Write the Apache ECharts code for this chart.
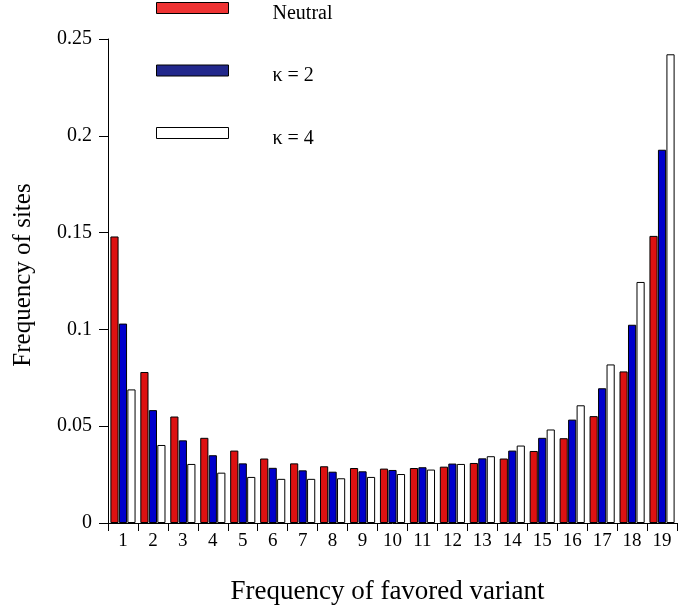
<!DOCTYPE html>
<html>
<head>
<meta charset="utf-8">
<script src="https://cdn.jsdelivr.net/npm/echarts@6/dist/echarts.min.js"></script>
<style>html,body{margin:0;padding:0;background:#fff}#c{width:680px;height:609px}</style>
</head>
<body>
<div id="c"></div>
<script>
const categories = ['1','2','3','4','5','6','7','8','9','10','11','12','13','14','15','16','17','18','19'];
const neutral = [0.148, 0.078, 0.055, 0.044, 0.0374, 0.0333, 0.0308, 0.0293, 0.0284, 0.0281, 0.0284, 0.0291, 0.031, 0.0333, 0.0372, 0.0438, 0.0552, 0.0783, 0.1483];
const kappa2 = [0.103, 0.0583, 0.0427, 0.035, 0.0308, 0.0285, 0.0272, 0.0265, 0.0267, 0.0274, 0.0288, 0.0307, 0.0334, 0.0374, 0.044, 0.0534, 0.0696, 0.1024, 0.1928];
const kappa4 = [0.069, 0.0403, 0.0305, 0.026, 0.0238, 0.0228, 0.0228, 0.0231, 0.0238, 0.0253, 0.0276, 0.0305, 0.0345, 0.04, 0.0483, 0.0608, 0.0819, 0.1245, 0.2421];
const seriesNames = ['Neutral', 'κ = 2', 'κ = 4'];

const font = 'Liberation Serif, Times New Roman, serif';
const chart = echarts.init(document.getElementById('c'));
const barStyle = (color) => ({ color: color, borderColor: '#000', borderWidth: 1 });
chart.setOption({
  backgroundColor: '#fff',
  animation: false,
  textStyle: { fontFamily: font },
  legend: {
    orient: 'vertical',
    left: 156,
    top: 2,
    padding: 0,
    itemWidth: 72,
    itemHeight: 11,
    itemGap: 41,
    selectedMode: false,
    formatter: (name) => '{t|' + name + '}',
    textStyle: {
      fontFamily: font, fontSize: 20, color: '#000', padding: [0, 0, 0, 39],
      rich: { t: { fontFamily: font, fontSize: 20, color: '#000', padding: [11, 0, 0, 0] } }
    },
    data: [
      { name: seriesNames[0], icon: 'rect', itemStyle: { color: '#ee3333', borderColor: '#000', borderWidth: 1 } },
      { name: seriesNames[1], icon: 'rect', itemStyle: { color: '#22288c', borderColor: '#000', borderWidth: 1 } },
      { name: seriesNames[2], icon: 'rect', itemStyle: { color: '#ffffff', borderColor: '#000', borderWidth: 1 } }
    ]
  },
  grid: { left: 108, right: 3, top: 39, bottom: 86, containLabel: false, outerBoundsMode: 'none' },
  xAxis: {
    type: 'category',
    data: categories,
    name: 'Frequency of favored variant',
    nameLocation: 'middle',
    nameGap: 55,
    nameTextStyle: { fontFamily: font, fontSize: 27, color: '#000', padding: [0, 10, 0, 0] },
    axisLine: { lineStyle: { color: '#000', width: 1 } },
    axisTick: { show: true, interval: 0, length: 8, lineStyle: { color: '#000' } },
    axisLabel: { interval: 0, fontFamily: font, fontSize: 19, color: '#000', margin: 9 },
    splitLine: { show: false }
  },
  yAxis: {
    type: 'value',
    min: 0,
    max: 0.25,
    interval: 0.05,
    name: 'Frequency of sites',
    nameLocation: 'middle',
    nameGap: 72,
    nameTextStyle: { fontFamily: font, fontSize: 25, color: '#000', padding: [0, 0, 0, 12] },
    axisLine: { show: true, lineStyle: { color: '#000', width: 1 } },
    axisTick: { show: true, length: 9, lineStyle: { color: '#000' } },
    axisLabel: { fontFamily: font, fontSize: 20, color: '#000', margin: 16 },
    splitLine: { show: false }
  },
  series: [
    { name: seriesNames[0], type: 'bar', data: neutral, itemStyle: barStyle('#dd1111'), barGap: '4%', barCategoryGap: '16%' },
    { name: seriesNames[1], type: 'bar', data: kappa2, itemStyle: barStyle('#0000cc'), barGap: '4%', barCategoryGap: '16%' },
    { name: seriesNames[2], type: 'bar', data: kappa4, itemStyle: barStyle('#ffffff'), barGap: '4%', barCategoryGap: '16%' }
  ]
});
</script>
</body>
</html>
